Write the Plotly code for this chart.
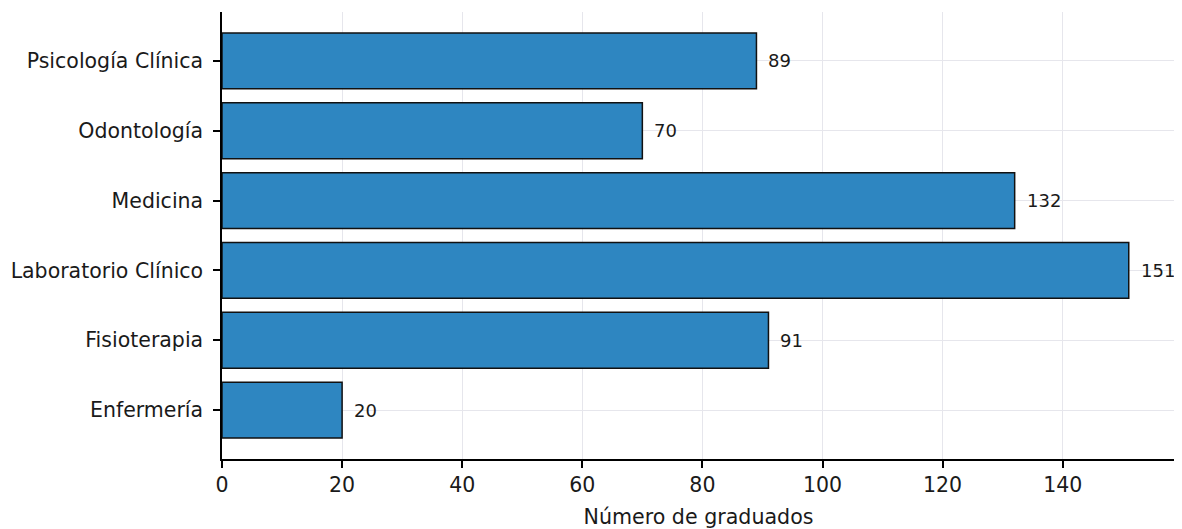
import plotly.graph_objects as go

categorias = ["Enfermería", "Fisioterapia", "Laboratorio Clínico", "Medicina", "Odontología", "Psicología Clínica"]
graduados = [20, 91, 151, 132, 70, 89]
x_ticks = [0, 20, 40, 60, 80, 100, 120, 140]

FONT = "DejaVu Sans"

fig = go.Figure()
fig.add_trace(go.Bar(
    y=list(range(len(categorias))),
    x=graduados,
    orientation="h",
    width=0.8,
    marker=dict(color="#2E86C1", line=dict(color="#111111", width=1.5)),
    hoverinfo="x+y",
))

for i, v in enumerate(graduados):
    fig.add_annotation(x=v, y=i, xref="x", yref="y", text=str(v), showarrow=False, xanchor="left",
                       xshift=10, font=dict(family=FONT, size=18, color="#1a1a1a"))

# page body has an 8px margin, so the figure is sized to fit the window
fig.update_layout(
    width=1174, height=521,
    margin=dict(l=214, r=7, t=4, b=70, autoexpand=False),
    plot_bgcolor="white", paper_bgcolor="white",
    showlegend=False,
    font=dict(family=FONT, color="#1a1a1a"),
)
fig.update_xaxes(
    range=[0, 158.7], tickvals=x_ticks, ticktext=[str(t) for t in x_ticks],
    showline=True, linecolor="black", linewidth=1.5,
    ticks="outside", ticklen=7, tickwidth=1.5, tickcolor="black",
    showgrid=True, gridcolor="#e6e6ec", gridwidth=1.3, zeroline=False,
    tickfont=dict(family=FONT, size=20.5, color="#1a1a1a"),
    title=dict(text="Número de graduados", font=dict(family=FONT, size=20.6, color="#1a1a1a"), standoff=14),
    automargin=False,
)
fig.update_yaxes(
    range=[-0.7, 5.7], tickvals=list(range(len(categorias))), ticktext=categorias,
    showline=True, linecolor="black", linewidth=1.5,
    ticks="outside", ticklen=7, tickwidth=1.5, tickcolor="black",
    showgrid=True, gridcolor="#e6e6ec", gridwidth=1.3, zeroline=False,
    tickfont=dict(family=FONT, size=20.5, color="#1a1a1a"),
    ticklabelstandoff=6,
    automargin=False,
)

fig.write_html("out.html", config={"displayModeBar": False})
